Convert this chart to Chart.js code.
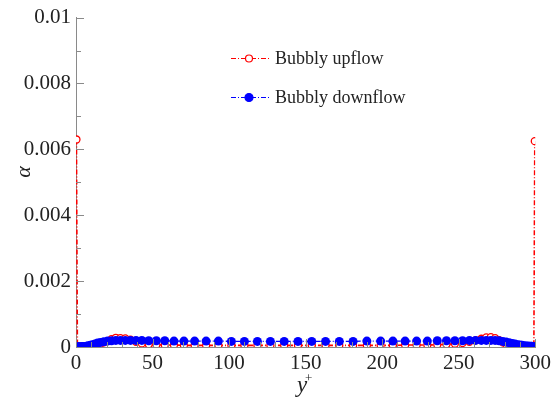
<!DOCTYPE html>
<html>
<head>
<meta charset="utf-8">
<script src="https://cdn.jsdelivr.net/npm/chart.js@4/dist/chart.umd.min.js"></script>
<style>
  body { margin: 0; background: #fff; }
  canvas { display: block; }
</style>
</head>
<body>
<canvas id="alphaChart" width="555" height="399"></canvas>
<script>
// wall-normal positions (y+), same grid for both cases
const yPlus = [
  0.3, 0.9, 1.6, 2.4, 3.3, 4.3, 5.4, 6.6, 7.9, 9.3, 10.8, 12.4, 14.1, 16.0, 18.2,
  20.6, 23.2, 26.0, 29.0, 32.2, 35.6, 39.2, 43.0, 47.5, 52.5, 58.0, 64.0, 70.5,
  77.5, 85.0, 93.0, 101.5, 110.0, 118.5, 127.0, 136.0, 145.0, 154.0, 163.0, 172.0,
  181.0, 190.0, 199.0, 207.0, 215.0, 222.5, 229.5, 236.0, 242.0, 247.5, 252.5,
  257.0, 261.0, 264.8, 268.0, 271.0, 273.8, 276.4, 278.8, 281.0, 283.0, 285.0,
  286.8, 288.5, 290.0, 291.4, 292.7, 293.9, 295.0, 296.0, 296.9, 297.7, 298.4,
  299.1, 299.7
];

// void fraction, bubbly upflow
const upflowAlpha = [
  0.0063, 0.00002, 0.00001, 0.00001, 0.00001, 0.00001, 0.00001, 0.00001, 0.00001,
  0.00001, 0.00002, 0.00003, 0.00006, 0.0001, 0.00014,
  0.00018, 0.00024, 0.00028, 0.00027, 0.00026, 0.00022, 0.00016, 0.00011, 0.00008,
  0.00007, 0.00006, 0.00006, 0.00005,
  0.00005, 0.00005, 0.00005, 0.00005, 0.00005, 0.00005, 0.00005, 0.00005, 0.00005,
  0.00005, 0.00005, 0.00005,
  0.00005, 0.00005, 0.00005, 0.00005, 0.00006, 0.00006, 0.00006, 0.00007, 0.00008,
  0.0001, 0.00012,
  0.00016, 0.0002, 0.00025, 0.00029, 0.0003, 0.00027, 0.00021, 0.00014, 0.00008,
  0.00004, 0.00002,
  0.00001, 0.00001, 0.00001, 0.00001, 0.00001, 0.00001, 0.00001, 0.00001, 0.00001,
  0.00001, 0.00001,
  0.00002, 0.00625
];

// void fraction, bubbly downflow
const downflowAlpha = [
  0.0, 0.000003, 0.000005, 0.000008, 0.00001, 0.000013, 0.000018, 0.000025,
  0.000035, 0.00005, 0.00007, 0.00009, 0.00012, 0.00014, 0.00016,
  0.00018, 0.00019, 0.0002, 0.0002, 0.0002, 0.0002, 0.0002, 0.0002, 0.00019,
  0.00019, 0.00019, 0.00018, 0.00018,
  0.00018, 0.00018, 0.00018, 0.00017, 0.00017, 0.00017, 0.00017, 0.00017, 0.00017,
  0.00017, 0.00017, 0.00017,
  0.00017, 0.00018, 0.00018, 0.00018, 0.00018, 0.00018, 0.00018, 0.00019, 0.00019,
  0.00019, 0.00019,
  0.0002, 0.0002, 0.0002, 0.0002, 0.0002, 0.0002, 0.00019, 0.00017, 0.00015,
  0.00013, 0.00011,
  0.00009, 0.00007, 0.00006, 0.00005, 0.00004, 0.00003, 0.00003, 0.00002, 0.00002,
  0.00002, 0.00001,
  0.00001, 0.00001
];

const seriesLabels = ['Bubbly upflow', 'Bubbly downflow'];
const xTicks = [0, 50, 100, 150, 200, 250, 300];
const yTicks = [0, 0.002, 0.004, 0.006, 0.008, 0.01];

const serif = '"Liberation Serif", "Times New Roman", serif';
const axisGray = '#8a8a8a';
const dashDot = [5, 2, 1, 2];

function toPoints(ys) {
  return yPlus.map((x, i) => ({ x: x, y: ys[i] }));
}

// inward ticks (major + minor) on the two visible axes
const innerTicks = {
  id: 'innerTicks',
  afterDraw(chart) {
    const ctx = chart.ctx;
    const xs = chart.scales.x, ys = chart.scales.y;
    const area = chart.chartArea;
    ctx.save();
    ctx.strokeStyle = axisGray;
    ctx.lineWidth = 1;
    ctx.beginPath();
    for (let v = 0; v <= 300; v += 10) {
      const px = Math.round(xs.getPixelForValue(v)) + 0.5;
      const len = xTicks.includes(v) ? 8 : 5;
      ctx.moveTo(px, area.bottom);
      ctx.lineTo(px, area.bottom - len);
    }
    for (let k = 0; k <= 10; k++) {
      const v = k * 0.001;
      const py = Math.round(ys.getPixelForValue(v)) + 0.5;
      const len = k % 2 === 0 ? 8 : 5;
      ctx.moveTo(area.left, py);
      ctx.lineTo(area.left + len, py);
    }
    ctx.stroke();
    ctx.restore();
  }
};

// axis titles and the legend box
const annotations = {
  id: 'annotations',
  afterDraw(chart) {
    const ctx = chart.ctx;
    ctx.save();
    ctx.fillStyle = '#222';

    // y title: alpha
    ctx.translate(24, 172);
    ctx.rotate(-Math.PI / 2);
    ctx.font = 'italic 22px ' + serif;
    ctx.textAlign = 'center';
    ctx.textBaseline = 'middle';
    ctx.fillText('\u03B1', 0, 0);
    ctx.setTransform(1, 0, 0, 1, 0, 0);

    // x title: y+
    ctx.textAlign = 'left';
    ctx.textBaseline = 'alphabetic';
    ctx.font = 'italic 23px ' + serif;
    ctx.fillText('y', 297, 392);
    ctx.font = '13px ' + serif;
    ctx.fillText('+', 305, 382);

    // legend
    const rows = [
      { y: 58, color: '#ff0000', fill: '#ffffff', r: 3.5 },
      { y: 97, color: '#0000ff', fill: '#0000ff', r: 4 }
    ];
    rows.forEach((row, i) => {
      ctx.strokeStyle = row.color;
      ctx.lineWidth = 1.2;
      ctx.setLineDash(dashDot);
      ctx.beginPath();
      ctx.moveTo(231, row.y + 0.5);
      ctx.lineTo(270, row.y + 0.5);
      ctx.stroke();
      ctx.setLineDash([]);
      ctx.beginPath();
      ctx.arc(249, row.y + 0.5, row.r, 0, Math.PI * 2);
      ctx.fillStyle = row.fill;
      ctx.fill();
      ctx.stroke();
      ctx.fillStyle = '#222';
      ctx.font = '18px ' + serif;
      ctx.textBaseline = 'middle';
      ctx.fillText(seriesLabels[i], 275, row.y + 1);
    });
    ctx.restore();
  }
};

new Chart(document.getElementById('alphaChart'), {
  type: 'scatter',
  data: {
    datasets: [
      {
        label: seriesLabels[0],
        data: toPoints(upflowAlpha),
        showLine: true,
        borderColor: '#ff0000',
        borderWidth: 1.6,
        borderDash: dashDot,
        pointRadius: 3.5,
        pointBorderWidth: 1.3,
        pointBackgroundColor: '#ffffff',
        pointBorderColor: '#ff0000',
        order: 1
      },
      {
        label: seriesLabels[1],
        data: toPoints(downflowAlpha),
        showLine: true,
        borderColor: '#0000ff',
        borderWidth: 1.3,
        borderDash: dashDot,
        pointRadius: 4.5,
        pointBorderWidth: 0,
        pointBackgroundColor: '#0000ff',
        pointBorderColor: '#0000ff',
        order: 0
      }
    ]
  },
  options: {
    responsive: false,
    animation: false,
    layout: { padding: { top: 15, right: 17, left: 0, bottom: 0 } },
    plugins: {
      legend: { display: false },
      tooltip: { enabled: false }
    },
    scales: {
      x: {
        type: 'linear',
        min: 0,
        max: 300,
        afterFit: s => { s.height = 52; },
        afterBuildTicks: s => { s.ticks = xTicks.map(v => ({ value: v })); },
        grid: { display: false, drawTicks: false },
        border: { display: true, color: axisGray, width: 1 },
        ticks: {
          padding: 4,
          color: '#222',
          font: { family: serif, size: 21 },
          maxRotation: 0
        }
      },
      y: {
        type: 'linear',
        min: 0,
        max: 0.01,
        afterFit: s => { s.width = 76; },
        afterBuildTicks: s => { s.ticks = yTicks.map(v => ({ value: v })); },
        grid: { display: false, drawTicks: false },
        border: { display: true, color: axisGray, width: 1 },
        ticks: {
          padding: 5,
          color: '#222',
          font: { family: serif, size: 21 },
          callback: v => String(+v.toFixed(3))
        }
      }
    }
  },
  plugins: [innerTicks, annotations]
});
</script>
</body>
</html>
